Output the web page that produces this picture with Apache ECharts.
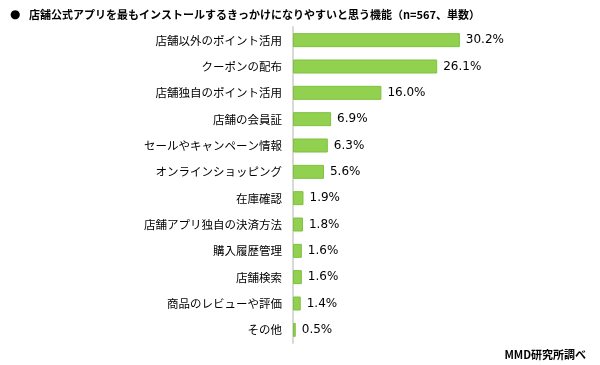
<!DOCTYPE html>
<html><head><meta charset="utf-8">
<script src="https://cdn.jsdelivr.net/npm/echarts@6/dist/echarts.min.js"></script>
<style>html,body{margin:0;padding:0;background:#fff}#c{width:600px;height:365px}</style>
</head><body><div id="c"></div>
<script>
const categories = ['店舗以外のポイント活用','クーポンの配布','店舗独自のポイント活用','店舗の会員証','セールやキャンペーン情報','オンラインショッピング','在庫確認','店舗アプリ独自の決済方法','購入履歴管理','店舗検索','商品のレビューや評価','その他'];
const values = [30.2,26.1,16.0,6.9,6.3,5.6,1.9,1.8,1.6,1.6,1.4,0.5];
const bulletText = '●';
const titleText = '店舗公式アプリを最もインストールするきっかけになりやすいと思う機能（n=567、単数）';
const sourceText = 'MMD研究所調べ';

const chart = echarts.init(document.getElementById('c'), null, {renderer:'canvas'});
chart.setOption({
  animation:false,
  backgroundColor:'#fff',
  title:[
    {text:bulletText,left:5,top:4,textStyle:{fontFamily:'DejaVu Sans',fontSize:12,fontWeight:'bold',color:'#000'}},
    {text:titleText,left:24,top:4,textStyle:{fontFamily:'Noto Sans CJK JP',fontSize:11,fontWeight:'bold',color:'#000'}},
    {text:sourceText,right:9,top:344,textStyle:{fontFamily:'Noto Sans CJK JP',fontSize:11,fontWeight:'bold',color:'#000'}}
  ],
  grid:{left:293,top:27,width:221,height:316,containLabel:false},
  xAxis:{type:'value',min:0,max:40,show:false},
  yAxis:{type:'category',inverse:true,data:categories,
    axisLine:{show:true,lineStyle:{color:'#d9d9d9',width:2}},
    axisTick:{show:false},
    axisLabel:{margin:11,fontFamily:'Noto Sans CJK JP',fontSize:11.5,color:'#000'}},
  series:[{type:'bar',data:values,barWidth:14,
    itemStyle:{color:'#92d050',borderColor:'#7dc23d',borderWidth:1},
    label:{show:true,position:'right',distance:6,formatter:p=>p.value.toFixed(1)+'%',fontFamily:'DejaVu Sans',fontSize:12,color:'#000'}}]
});
</script></body></html>
